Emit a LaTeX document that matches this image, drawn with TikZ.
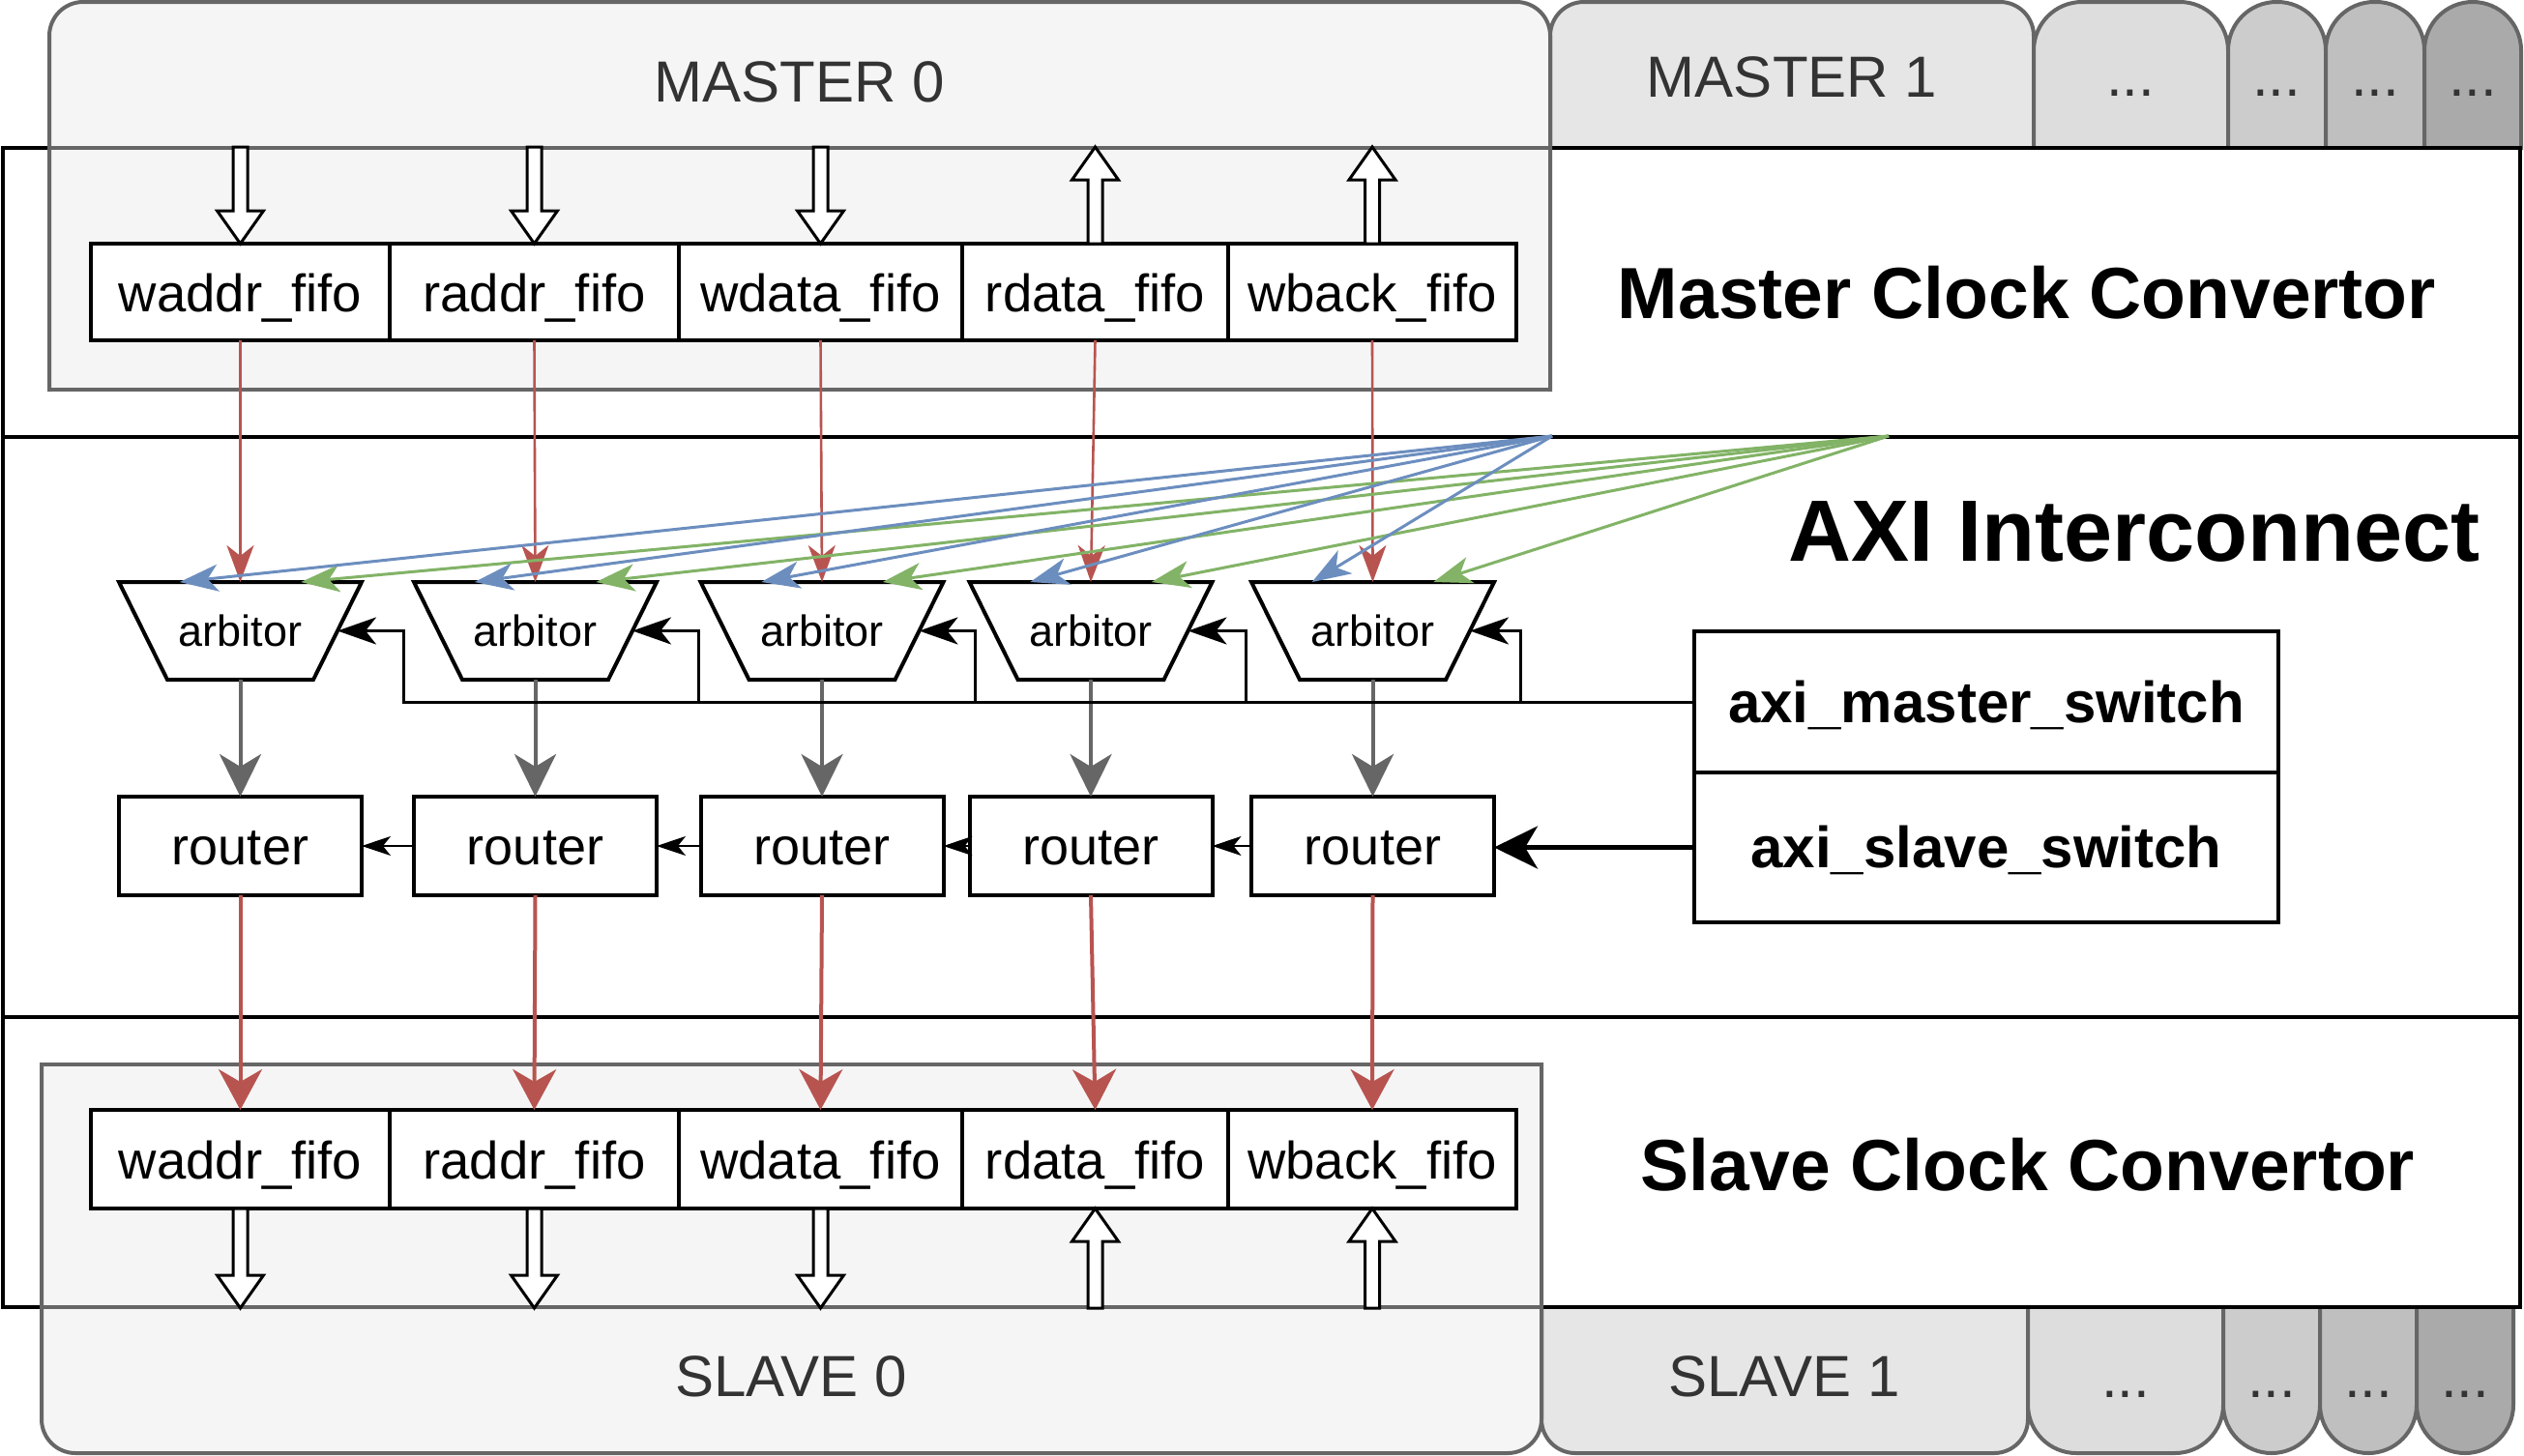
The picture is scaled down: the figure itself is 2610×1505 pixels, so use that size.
\documentclass[tikz,border=0pt]{standalone}
\usepackage{fontspec}
\setmainfont{Liberation Sans}
\usetikzlibrary{arrows.meta,calc}
\definecolor{cred}{HTML}{B85450}
\definecolor{cblue}{HTML}{6C8EBF}
\definecolor{cgreen}{HTML}{82B366}
\definecolor{cgrey}{HTML}{666666}
\definecolor{ctxt}{HTML}{333333}
\definecolor{fillA}{HTML}{F5F5F5}
\definecolor{fillB}{HTML}{E6E6E6}
\definecolor{fillC}{HTML}{DDDDDD}
\definecolor{fillD}{HTML}{CCCCCC}
\definecolor{fillE}{HTML}{BFBFBF}
\definecolor{fillF}{HTML}{AAAAAA}
\newcommand{\fsz}[1]{\fontsize{#1}{#1}\selectfont}
\newcommand{\blockdown}[2]{\draw[blockstyle] let \p1=(#1), \p2=(#2) in
  ({\x2-7.5pt},\y1) -- ({\x2-7.5pt},{\y2+34pt}) -- ({\x2-24pt},{\y2+34pt}) -- (\x2,\y2)
  -- ({\x2+24pt},{\y2+34pt}) -- ({\x2+7.5pt},{\y2+34pt}) -- ({\x2+7.5pt},\y1) -- cycle;}
\newcommand{\blockup}[2]{\draw[blockstyle] let \p1=(#1), \p2=(#2) in
  ({\x2-7.5pt},\y1) -- ({\x2-7.5pt},{\y2-34pt}) -- ({\x2-24pt},{\y2-34pt}) -- (\x2,\y2)
  -- ({\x2+24pt},{\y2-34pt}) -- ({\x2+7.5pt},{\y2-34pt}) -- ({\x2+7.5pt},\y1) -- cycle;}
\begin{document}
\begin{tikzpicture}[x=1pt,y=-1pt,
  tabline/.style={draw=cgrey, line width=4pt, line cap=rect},
  tablabel/.style={anchor=base, inner sep=0pt, text=ctxt, font={\fsz{60}}},
  fifobox/.style={draw, line width=4pt, fill=white, inner sep=0pt, outer sep=0pt, minimum height=100pt, font={\fsz{54.5}}, text height=44pt, text depth=4pt},
  arbbox/.style={inner sep=0pt, outer sep=0pt, minimum width=251pt, minimum height=101pt, font={\fsz{45}}},
  arbshape/.style={draw, line width=4pt, line join=miter},
  routerbox/.style={draw, line width=4pt, fill=white, inner sep=0pt, outer sep=0pt, minimum width=251pt, minimum height=102pt, font={\fsz{54}}, text height=38pt, text depth=0pt},
  swbox/.style={draw, line width=4pt, fill=white, inner sep=0pt, outer sep=0pt, minimum width=604pt, font={\fsz{60}\bfseries}, text height=46pt, text depth=4pt},
  seclabel/.style={anchor=base, inner sep=0pt},
  redthin/.style={draw=cred, line width=2.6pt, -{Stealth[length=38pt,width=28pt,inset=11pt]}},
  redthick/.style={draw=cred, line width=4pt, -{Stealth[length=42pt,width=45pt,inset=13pt]}},
  greyarr/.style={draw=cgrey, line width=4pt, -{Stealth[length=44pt,width=43pt,inset=13pt]}},
  bluearr/.style={draw=cblue, line width=3pt, -{Stealth[length=40pt,width=28pt,inset=11pt]}},
  greenarr/.style={draw=cgreen, line width=3pt, -{Stealth[length=40pt,width=28pt,inset=11pt]}},
  ctrlarr/.style={draw=black, line width=3pt, -{Stealth[length=40pt,width=28pt,inset=11pt]}},
  chainarr/.style={draw=black, line width=2pt, -{Stealth[length=30pt,width=20pt,inset=8pt]}},
  slvarr/.style={draw=black, line width=4.5pt, -{Stealth[length=45pt,width=44pt,inset=13pt]}},
  blockstyle/.style={draw=black, line width=3pt, fill=white, line join=miter},
  framebox/.style={draw=black, line width=4.5pt}
]
\useasboundingbox (0,0) rectangle (2610,1505);

% ---- top tabs (masters)
\filldraw[tabline, fill=fillB, rounded corners=35pt] (1603,153) -- (1603,2) -- (2103,2) -- (2103,153);
\filldraw[tabline, fill=fillC, rounded corners=50pt] (2103,153) -- (2103,2) -- (2304,2) -- (2304,153);
\filldraw[tabline, fill=fillD, rounded corners=50pt] (2304,153) -- (2304,2) -- (2405,2) -- (2405,153);
\filldraw[tabline, fill=fillE, rounded corners=50pt] (2405,153) -- (2405,2) -- (2507,2) -- (2507,153);
\filldraw[tabline, fill=fillF, rounded corners=50pt] (2507,153) -- (2507,2) -- (2607,2) -- (2607,153);

% ---- bottom tabs (slaves)
\filldraw[tabline, fill=fillB, rounded corners=35pt] (1594,1352) -- (1594,1503) -- (2097,1503) -- (2097,1352);
\filldraw[tabline, fill=fillC, rounded corners=50pt] (2097,1352) -- (2097,1503) -- (2299,1503) -- (2299,1352);
\filldraw[tabline, fill=fillD, rounded corners=50pt] (2299,1352) -- (2299,1503) -- (2399,1503) -- (2399,1352);
\filldraw[tabline, fill=fillE, rounded corners=50pt] (2399,1352) -- (2399,1503) -- (2499,1503) -- (2499,1352);
\filldraw[tabline, fill=fillF, rounded corners=50pt] (2499,1352) -- (2499,1503) -- (2599,1503) -- (2599,1352);

% ---- main frame
\draw[framebox, fill=white] (3,153) rectangle (2606,1352);
\draw[framebox] (3,452) -- (2606,452);
\draw[framebox] (3,1052) -- (2606,1052);

% ---- MASTER 0 / SLAVE 0
\filldraw[tabline, fill=fillA, rounded corners=35pt] (51,403) -- (51,2) -- (1603,2) -- (1603,403);
\draw[tabline] (51,403) -- (1603,403);
\draw[tabline] (51,153) -- (1603,153);
\filldraw[tabline, fill=fillA, rounded corners=35pt] (43,1101) -- (43,1503) -- (1594,1503) -- (1594,1101);
\draw[tabline] (43,1101) -- (1594,1101);
\draw[tabline] (43,1352) -- (1594,1352);

% ---- tab labels
\node[tablabel] (lm0) at (827,105) {MASTER 0};
\node[tablabel] (lm1) at (1853,100) {MASTER 1};
\node[tablabel] (ld1) at (2203,99) {...};
\node[tablabel] (ld2) at (2354,99) {...};
\node[tablabel] (ld3) at (2456,99) {...};
\node[tablabel] (ld4) at (2557,99) {...};
\node[tablabel] (ls0) at (818,1444) {SLAVE 0};
\node[tablabel] (ls1) at (1845,1444) {SLAVE 1};
\node[tablabel] (le1) at (2198,1445) {...};
\node[tablabel] (le2) at (2349,1445) {...};
\node[tablabel] (le3) at (2449,1445) {...};
\node[tablabel] (le4) at (2549,1445) {...};

% ---- section labels
\node[seclabel, font={\fsz{75}\bfseries}] (lmcc) at (2096,329) {Master Clock Convertor};
\node[seclabel, font={\fsz{90}\bfseries}] (laxi) at (2207,580) {AXI Interconnect};
\node[seclabel, font={\fsz{75}\bfseries}] (lscc) at (2097,1231) {Slave Clock Convertor};

% ---- fifo boxes
\node[fifobox, minimum width=309pt] (mf1) at (248.5,302) {waddr\_fifo};
\node[fifobox, minimum width=299pt] (mf2) at (552.5,302) {raddr\_fifo};
\node[fifobox, minimum width=293pt] (mf3) at (848.5,302) {wdata\_fifo};
\node[fifobox, minimum width=275pt] (mf4) at (1132.5,302) {rdata\_fifo};
\node[fifobox, minimum width=298pt] (mf5) at (1419,302) {wback\_fifo};
\node[fifobox, minimum width=309pt, minimum height=102pt] (sf1) at (248.5,1199) {waddr\_fifo};
\node[fifobox, minimum width=299pt, minimum height=102pt] (sf2) at (552.5,1199) {raddr\_fifo};
\node[fifobox, minimum width=293pt, minimum height=102pt] (sf3) at (848.5,1199) {wdata\_fifo};
\node[fifobox, minimum width=275pt, minimum height=102pt] (sf4) at (1132.5,1199) {rdata\_fifo};
\node[fifobox, minimum width=298pt, minimum height=102pt] (sf5) at (1419,1199) {wback\_fifo};

% ---- arbitors and routers
\foreach \i/\cx in {1/248.5,2/553.5,3/850,4/1128,5/1419.5} {
  \node[arbbox] (arb\i) at (\cx,652.5) {arbitor};
  \draw[arbshape] (arb\i.north west) -- (arb\i.north east) -- ([xshift=-50pt]arb\i.south east) -- ([xshift=50pt]arb\i.south west) -- cycle;
  \node[routerbox] (r\i) at (\cx,875) {router};
}

% ---- switches
\node[swbox, minimum height=146pt] (msw) at (2054,726) {axi\_master\_switch};
\node[swbox, minimum height=155pt] (ssw) at (2054,876.5) {axi\_slave\_switch};

% ---- block arrows
\coordinate (mline) at (0,152);
\coordinate (sline) at (0,1353);
\blockdown{mf1 |- mline}{mf1.north}
\blockdown{mf2 |- mline}{mf2.north}
\blockdown{mf3 |- mline}{mf3.north}
\blockup{mf4.north}{mf4 |- mline}
\blockup{mf5.north}{mf5 |- mline}
\blockdown{sf1.south}{sf1 |- sline}
\blockdown{sf2.south}{sf2 |- sline}
\blockdown{sf3.south}{sf3 |- sline}
\blockup{sf4 |- sline}{sf4.south}
\blockup{sf5 |- sline}{sf5.south}

% ---- data path arrows
\foreach \i in {1,...,5} {
  \draw[redthin] (mf\i.south) -- (arb\i.north);
  \draw[greyarr] (arb\i.south) -- (r\i.north);
  \draw[redthick] (r\i.south) -- (sf\i.north);
}

% ---- fan-out lines
\coordinate (bsrc) at (1605,451);
\coordinate (gsrc) at (1953,451);
\foreach \i in {1,...,5} {
  \draw[greenarr] (gsrc) -- ($(arb\i.north west)!0.75!(arb\i.north east)$);
}
\foreach \i in {1,...,5} {
  \draw[bluearr] (bsrc) -- ($(arb\i.north west)!0.25!(arb\i.north east)$);
}

% ---- master switch control
\foreach \i/\bx in {1/417,2/722,3/1008,4/1288,5/1572} {
  \draw[ctrlarr] (msw.west) -| (\bx,652.5) -- ($(arb\i.east)+(-25,0)$);
}

% ---- router chain
\draw[slvarr] (ssw.west) -- (r5.east |- ssw.west);
\draw[chainarr] (r5.west) -- (r4.east);
\draw[chainarr] (r4.west) -- (r3.east);
\draw[chainarr] (r3.west) -- (r2.east);
\draw[chainarr] (r2.west) -- (r1.east);
\end{tikzpicture}
\end{document}
